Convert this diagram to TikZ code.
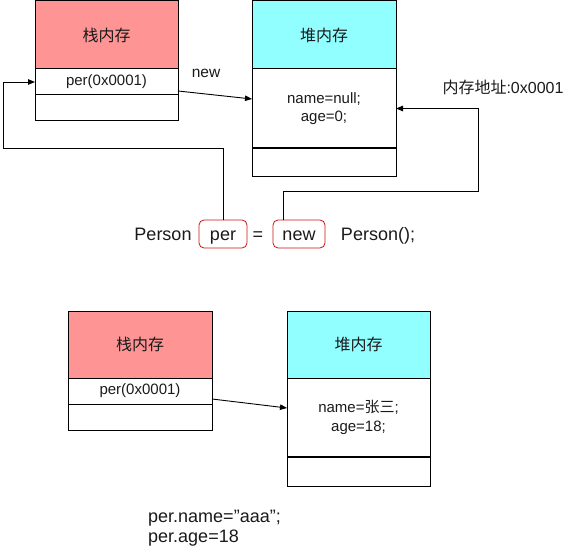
\documentclass[tikz,border=0pt]{standalone}
\usepackage{fontspec}
\setmainfont{Liberation Sans}
\newfontfamily\cjk{Noto Sans CJK SC}
\usetikzlibrary{arrows.meta}
\definecolor{stackred}{HTML}{FF9494}
\definecolor{heapcyan}{HTML}{91FFFF}
\definecolor{boxred}{HTML}{CC1111}
\definecolor{txt}{HTML}{1A1A1A}
\tikzset{
  cell/.style={draw=black, line width=1pt, inner sep=0pt, outer sep=0pt, text=txt, font=\fontsize{15}{18.5}\selectfont, align=center},
  hdr/.style={cell, font=\cjk\fontsize{16}{18}\selectfont},
  arr/.style={draw=black, line width=0.9pt, -{Triangle[length=7pt,width=5.5pt]}},
  varbox/.style={draw=boxred, line width=0.8pt, rounded corners=5pt, inner sep=0pt, text height=20pt, text depth=8pt, anchor=base, text=txt, font=\fontsize{18}{20}\selectfont},
  code/.style={inner sep=0pt, anchor=base, text=txt, font=\fontsize{18}{20}\selectfont},
  lbl/.style={inner sep=0pt, text=txt, font=\fontsize{15.5}{18}\selectfont}
}
\begin{document}
\begin{tikzpicture}[x=1pt,y=-1pt]
\useasboundingbox (0,0) rectangle (569,553);
% top stack
\node[hdr, fill=stackred, minimum width=143pt, minimum height=68pt] (s1h) at (106.5,35) {栈内存};
\node[cell, minimum width=143pt, minimum height=26pt] (s1a) at (106.5,82) {per(0x0001)};
\node[cell, minimum width=143pt, minimum height=26pt] (s1b) at (106.5,108) {};
% top heap
\node[hdr, fill=heapcyan, minimum width=144pt, minimum height=68pt] (h1h) at (324,35) {堆内存};
\node[cell, minimum width=144pt, minimum height=79pt] (h1a) at (324,108.5) {name=null;\\age=0;};
\node[cell, minimum width=144pt, minimum height=29pt] (h1b) at (324,162.5) {};
\draw[line width=2.2pt] (h1a.south west) -- (h1a.south east);
% code line
\node[code] (p1) at (163,240) {Person};
\node[varbox, minimum width=48pt] (rp) at (223,240) {per};
\node[code] (eq) at (258,240) {=};
\node[varbox, minimum width=52pt] (rn) at (299,240) {new};
\node[code] (p2) at (378,240) {Person();};
% connectors top
\draw[arr] ([yshift=-9pt]s1a.east) -- ([yshift=9.5pt]h1a.west);
\node[lbl] (newl) at (206,73) {new};
\coordinate (c1) at (3,148);
\draw[arr] (rp.north) |- (c1) |- (s1a.west);
\coordinate (c2) at (478,191);
\draw[arr] ([xshift=-16pt]rn.north) |- (c2) |- (h1a.east);
\node[lbl, font=\fontsize{16}{18}\selectfont] (addr) at (503,87) {{\cjk 内存地址}:0x0001};
% bottom stack
\node[hdr, fill=stackred, minimum width=144pt, minimum height=67pt] (s2h) at (140,344.5) {栈内存};
\node[cell, minimum width=144pt, minimum height=26pt] (s2a) at (140,391) {per(0x0001)};
\node[cell, minimum width=144pt, minimum height=26pt] (s2b) at (140,417) {};
% bottom heap
\node[hdr, fill=heapcyan, minimum width=143pt, minimum height=67pt] (h2h) at (358.5,344.5) {堆内存};
\node[cell, minimum width=143pt, minimum height=79pt] (h2a) at (358.5,417.5) {name={\cjk 张三};\\age=18;};
\node[cell, minimum width=143pt, minimum height=29pt] (h2b) at (358.5,471.5) {};
\draw[line width=2.2pt] (h2a.south west) -- (h2a.south east);
\draw[arr] ([yshift=-8pt]s2a.east) -- ([yshift=9.5pt]h2a.west);
% bottom code
\node[code, anchor=west, align=left] (c3) at (148,528) {per.name={\char34}aaa{\char34};\\per.age=18};
\end{tikzpicture}
\end{document}
